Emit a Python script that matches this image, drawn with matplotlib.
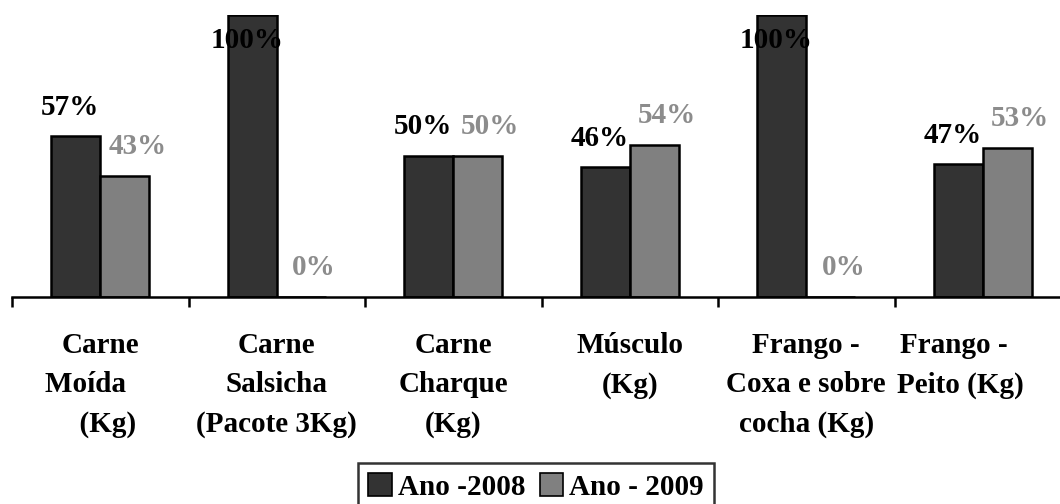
import numpy as np
import matplotlib
matplotlib.use("Agg")
import matplotlib.pyplot as plt
import matplotlib.transforms as mtransforms
from matplotlib.patches import Patch

# dados
categorias = ["Carne\nMoída    \n  (Kg)",
              "Carne\nSalsicha\n(Pacote 3Kg)",
              "Carne\nCharque\n(Kg)",
              "Músculo\n(Kg)",
              "Frango -\nCoxa e sobre\ncocha (Kg)",
              "Frango -  \nPeito (Kg)"]
ano_2008 = [57, 100, 50, 46, 100, 47]
ano_2009 = [43, 0, 50, 54, 0, 53]
series = ["Ano -2008", "Ano - 2009"]

cor_escura = "#333333"
cor_clara = "#808080"
cor_rotulo = "#8c8c8c"

plt.rcParams["font.family"] = ["Liberation Serif", "DejaVu Serif"]
plt.rcParams["font.weight"] = "bold"

W, H = 1060, 504
fig = plt.figure(figsize=(W / 100, H / 100), dpi=100)
ax = fig.add_axes([12 / W, (H - 297) / H, 1059 / W, (297 - 15) / H])

x = np.arange(len(categorias))
bw = 0.278
b1 = ax.bar(x - bw / 2, ano_2008, bw, color=cor_escura, edgecolor="black", linewidth=1.8)
b2 = ax.bar(x + bw / 2, ano_2009, bw, color=cor_clara, edgecolor="black", linewidth=1.8)

ax.set_xlim(-0.5, len(categorias) - 0.5)
ax.set_ylim(0, 100)

# rotulos de dados
for bars, vals, cor, dx in [(b1, ano_2008, "black", -4), (b2, ano_2009, cor_rotulo, 9)]:
    for rect, v in zip(bars, vals):
        cx = rect.get_x() + rect.get_width() / 2
        dy = -18 if v >= 95 else 21
        ax.annotate(f"{v}%", (cx, v), xytext=(dx, dy), textcoords="offset points",
                    ha="center", va="center", fontsize=21, fontweight="bold",
                    color=cor, annotation_clip=False)

for s in ["top", "right", "left"]:
    ax.spines[s].set_visible(False)
ax.spines["bottom"].set_linewidth(1.8)
ax.set_yticks([])

ax.set_xticks(np.arange(len(categorias) + 1) - 0.5)
ax.set_xticklabels([])
ax.tick_params(axis="x", which="major", direction="out", length=7, width=1.8)
ax.set_xticks(x, minor=True)
ax.set_xticklabels(categorias, minor=True, fontsize=21, fontweight="bold", linespacing=1.6)
ax.tick_params(axis="x", which="minor", length=0, pad=25)
for lbl in ax.get_xticklabels(minor=True):
    lbl.set_verticalalignment("top")
ult = ax.get_xticklabels(minor=True)[-1]
ult.set_transform(ult.get_transform() + mtransforms.ScaledTranslation(-0.22, 0, fig.dpi_scale_trans))

handles = [Patch(facecolor=cor_escura, edgecolor="black", linewidth=1.2),
           Patch(facecolor=cor_clara, edgecolor="black", linewidth=1.2)]
leg = fig.legend(handles, series, ncol=2, loc="center", bbox_to_anchor=(536 / W, (H - 487) / H),
                 prop={"weight": "bold", "size": 21}, frameon=True, fancybox=False,
                 edgecolor="black", handlelength=0.8, handleheight=0.8, handletextpad=0.2,
                 columnspacing=0.5, borderpad=0.35, borderaxespad=0)
leg.get_frame().set_linewidth(1.8)

fig.savefig("out.png", dpi=100)
